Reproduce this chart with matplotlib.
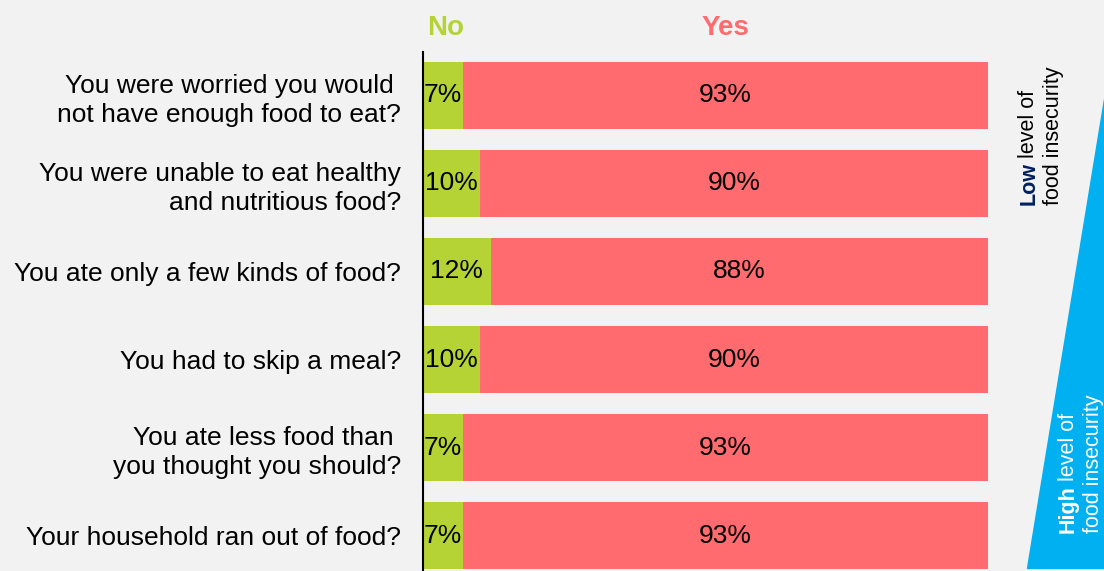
import matplotlib.pyplot as plt
from matplotlib.patches import Polygon

plt.rcParams['font.family'] = ['Liberation Sans', 'DejaVu Sans']

questions = [
    "You were worried you would \nnot have enough food to eat?",
    "You were unable to eat healthy\nand nutritious food?",
    "You ate only a few kinds of food?",
    "You had to skip a meal?",
    "You ate less food than \nyou thought you should?",
    "Your household ran out of food?",
]
no_pct = [7, 10, 12, 10, 7, 7]
yes_pct = [93, 90, 88, 90, 93, 93]

bg = "#F2F2F2"
green = "#B5D334"
red = "#FF6B6F"
blue = "#00B0F0"
navy = "#002060"

W, H = 1104, 571
fig = plt.figure(figsize=(W / 100, H / 100), dpi=100, facecolor=bg)
ax = fig.add_axes([423 / W, 0, 565 / W, 1 - 52 / H])
ax.set_facecolor(bg)

y = list(range(len(questions)))
ax.barh(y, no_pct, height=0.76, color=green)
ax.barh(y, yes_pct, left=no_pct, height=0.76, color=red)

for i in y:
    ax.text(no_pct[i] / 2, i, f"{no_pct[i]}%", ha="center", va="center", fontsize=19)
    ax.text(no_pct[i] + yes_pct[i] / 2, i, f"{yes_pct[i]}%", ha="center", va="center", fontsize=19)

ax.set_xlim(0, 100)
ax.set_ylim(5.403, -0.494)
ax.set_yticks(y)
ax.set_yticklabels(questions, fontsize=19, linespacing=1.25)
ax.tick_params(axis="y", length=0, pad=16)
ax.set_xticks([])
for s in ["top", "right", "bottom"]:
    ax.spines[s].set_visible(False)
ax.spines["left"].set_linewidth(1.5)

# column headers
ax.text(no_pct[0] / 2 + 0.5, -0.77, "No", ha="center", va="center",
        fontsize=20, fontweight="bold", color=green, clip_on=False)
ax.text(53.5, -0.77, "Yes", ha="center", va="center",
        fontsize=20, fontweight="bold", color=red, clip_on=False)

# severity wedge on the right
wedge = Polygon([(1027 / W, 1 - 568 / H), (1 + 0.001, 1 - 568 / H), (1 + 0.001, 1 - 93 / H)],
                closed=True, transform=fig.transFigure, color=blue, zorder=0)
fig.patches.append(wedge)


def side_note(x, y0, bold, bold_color, color, size=15.5):
    # rotated "<bold> level of" / "food insecurity" pair, reading bottom to top
    t1 = fig.text(x / W, 1 - y0 / H, bold, rotation=90, ha="center", va="bottom",
                  fontsize=size, fontweight="bold", color=bold_color)
    fig.canvas.draw()
    bb = t1.get_window_extent()
    fig.text(x / W, (bb.y1 + 4) / H, "level of", rotation=90, ha="center", va="bottom",
             fontsize=size, color=color)
    fig.text((x + 25) / W, 1 - y0 / H, "food insecurity", rotation=90, ha="center",
             va="bottom", fontsize=size, color=color)


side_note(1029, 205, "Low", navy, "black")
side_note(1068, 533, "High", "white", "white")

fig.savefig("out.png", dpi=100, facecolor=bg)
